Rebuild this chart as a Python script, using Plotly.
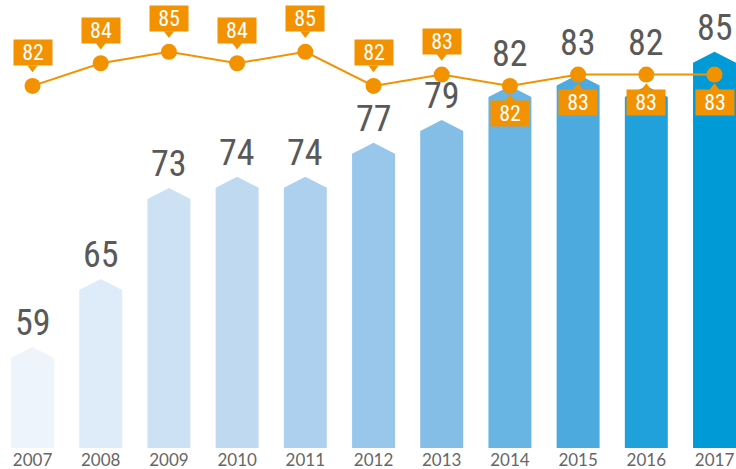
import plotly.graph_objects as go

years = ['2007', '2008', '2009', '2010', '2011', '2012', '2013', '2014', '2015', '2016', '2017']
bar_values = [59, 65, 73, 74, 74, 77, 79, 82, 83, 82, 85]
line_values = [82, 84, 85, 84, 85, 82, 83, 82, 83, 83, 83]
callout_below = [False, False, False, False, False, False, False, True, True, True, True]
bar_colors = ['#EEF4FC', '#DEEBF9', '#CDE1F5', '#BFD9F1', '#ADD0EE', '#99C7EB',
              '#84BDE6', '#68B4E2', '#4CAADF', '#21A1DB', '#009AD6']

ORANGE = '#F39200'
COND = 'Roboto Condensed, Liberation Sans Narrow, DejaVu Sans Condensed, Roboto, sans-serif'
W, H = 736, 469
MB = 21
Y_MIN, Y_MAX = 50.1, 89.57
PX = (Y_MAX - Y_MIN) / (H - MB)   # data units per pixel
BAR_W = 0.63
TIP = 11 * PX

fig = go.Figure()

# arrow-topped bars
for i, (v, c) in enumerate(zip(bar_values, bar_colors)):
    x0, x1 = i - BAR_W / 2, i + BAR_W / 2
    fig.add_trace(go.Scatter(
        x=[x0, x0, i, x1, x1, x0],
        y=[Y_MIN, v - TIP, v, v - TIP, Y_MIN, Y_MIN],
        fill='toself', fillcolor=c, mode='none',
        hoverinfo='skip', showlegend=False))

xs = list(range(len(years)))

# line
fig.add_trace(go.Scatter(
    x=xs, y=line_values, mode='lines+markers',
    line=dict(color=ORANGE, width=2),
    marker=dict(color=ORANGE, size=16),
    hoverinfo='skip', showlegend=False))

# callout pointers
BOX_UP = 33     # px from point to box centre (above)
BOX_DN = 28     # px (below)
BOX_H = 25
TRI = 9
up_x = [i for i in xs if not callout_below[i]]
up_y = [line_values[i] + (BOX_UP - BOX_H / 2 - TRI / 4) * PX for i in up_x]
dn_x = [i for i in xs if callout_below[i]]
dn_y = [line_values[i] - (BOX_DN - BOX_H / 2 - TRI / 4) * PX for i in dn_x]
fig.add_trace(go.Scatter(x=up_x, y=up_y, mode='markers',
                         marker=dict(symbol='triangle-down', size=TRI, color=ORANGE),
                         hoverinfo='skip', showlegend=False))
fig.add_trace(go.Scatter(x=dn_x, y=dn_y, mode='markers',
                         marker=dict(symbol='triangle-up', size=TRI, color=ORANGE),
                         hoverinfo='skip', showlegend=False))

# callout boxes
for i, v in enumerate(line_values):
    fig.add_annotation(
        x=i, y=v, xref='x', yref='y', showarrow=False,
        text=str(v), yshift=(-BOX_DN if callout_below[i] else BOX_UP),
        xanchor='center', yanchor='middle',
        bgcolor=ORANGE, width=36, height=23, borderpad=1,
        font=dict(family=COND, size=22, color='white'))

# value labels on bars
for i, (b, l) in enumerate(zip(bar_values, line_values)):
    if b - 1.5 <= l <= b + 3:
        anchor, shift = max(b, l), 9
    else:
        anchor, shift = b, 1
    fig.add_annotation(
        x=i, y=anchor, xref='x', yref='y', showarrow=False,
        text=str(b), yshift=shift, xanchor='center', yanchor='bottom',
        font=dict(family=COND, size=36, color='#595959'))

fig.update_xaxes(range=[-0.477, 10.315], tickmode='array', tickvals=xs, ticktext=years,
                 showgrid=False, zeroline=False, showline=False, ticks='',
                 tickfont=dict(family='Lato, sans-serif', size=17, color='#666666'))
fig.update_yaxes(range=[Y_MIN, Y_MAX], visible=False, showgrid=False, zeroline=False)
fig.update_layout(width=W, height=H, margin=dict(l=0, r=0, t=0, b=MB, pad=0),
                  plot_bgcolor='white', paper_bgcolor='white')

fig.write_html('out.html', config={'displayModeBar': False},
               post_script="document.body.style.margin='0';document.body.style.overflow='hidden';")
